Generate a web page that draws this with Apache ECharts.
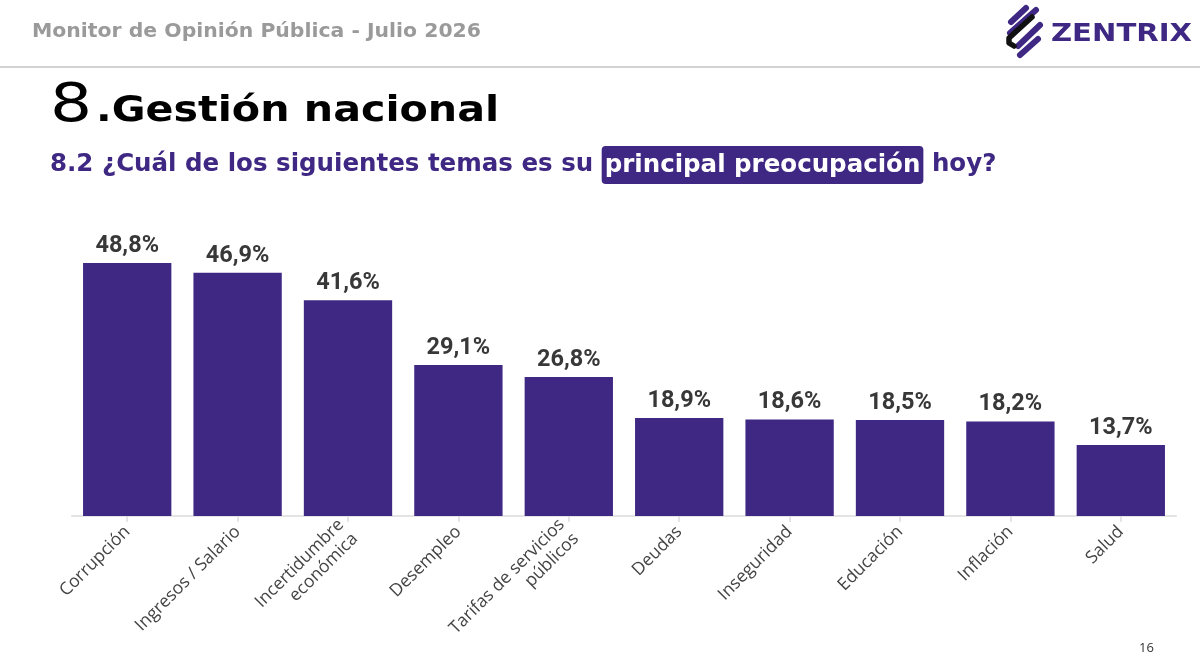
<!DOCTYPE html>
<html><head><meta charset="utf-8">
<script src="https://cdn.jsdelivr.net/npm/echarts@6/dist/echarts.min.js"></script>
<style>html,body{margin:0;padding:0;background:#fff}#c{width:1200px;height:663px}</style>
</head><body><div id="c"></div>
<script>
const categories = ['Corrupción','Ingresos / Salario','Incertidumbre\neconómica','Desempleo','Tarifas de servicios\npúblicos','Deudas','Inseguridad','Educación','Inflación','Salud'];
const values = [48.8, 46.9, 41.6, 29.1, 26.8, 18.9, 18.6, 18.5, 18.2, 13.7];
const headerText = 'Monitor de Opinión Pública - Julio 2026';
const titleNum = '8';
const titleText = '.Gestión nacional';
const subtitleText = '8.2 ¿Cuál de los siguientes temas es su {h|principal preocupación} hoy?';
const pageNum = '16';

const PURPLE = '#3f2883';
const HF = 'DejaVu Sans';
const chart = echarts.init(document.getElementById('c'), null, {renderer:'canvas'});
chart.setOption({
  animation:false,
  backgroundColor:'#fff',
  grid:{left:72, right:24, top:256.7, bottom:147, containLabel:false},
  xAxis:{
    type:'category', data:categories,
    axisLine:{lineStyle:{color:'#e4e4e4', width:2}},
    axisTick:{show:true, alignWithLabel:true, length:6, lineStyle:{color:'#dddddd', width:1.5}},
    axisLabel:{rotate:45, fontSize:17.5, color:'#444', fontFamily:'Open Sans', margin:13, interval:0, lineHeight:20}
  },
  yAxis:{type:'value', min:0, max:50, show:false, splitLine:{show:false}},
  series:[{
    type:'bar', data:values, barCategoryGap:'20%',
    itemStyle:{color:PURPLE},
    label:{show:true, position:'top', distance:5, fontSize:23.5, fontWeight:'bold', color:'#383838', fontFamily:'Roboto',
      formatter:p=>p.value.toFixed(1).replace('.',',')+'%'}
  }],
  graphic:[
    {type:'text', x:32, y:22, scaleX:1.02, style:{text:headerText, fontSize:20, fontWeight:'bold', fill:'#9a9a9a', fontFamily:HF}},
    {type:'rect', shape:{x:0,y:66,width:1200,height:2}, style:{fill:'#d2d2d2'}},
    {type:'text', x:50, y:81, scaleX:1.25, style:{text:titleNum, fontSize:53, fontWeight:'normal', fill:'#000', fontFamily:HF}},
    {type:'text', x:96, y:94, scaleX:1.145, style:{text:titleText, fontSize:36, fontWeight:'bold', fill:'#000', fontFamily:HF}},
    {type:'text', left:50, top:146, style:{text:subtitleText, fontSize:24.5, fontWeight:'bold', fill:PURPLE, fontFamily:HF,
      rich:{h:{fontSize:24.5, fontWeight:'bold', fontFamily:HF, fill:'#fff', backgroundColor:PURPLE, borderRadius:4, padding:[7,3,6,3]}}}},
    // logo
    {type:'line', shape:{x1:1011,y1:22,x2:1026,y2:8}, style:{stroke:PURPLE, lineWidth:6, lineCap:'round'}},
    {type:'line', shape:{x1:1010,y1:33,x2:1036,y2:10}, style:{stroke:PURPLE, lineWidth:6, lineCap:'round'}},
    {type:'line', shape:{x1:1018,y1:46,x2:1040,y2:25}, style:{stroke:PURPLE, lineWidth:6, lineCap:'round'}},
    {type:'line', shape:{x1:1020,y1:55,x2:1038,y2:39}, style:{stroke:PURPLE, lineWidth:6, lineCap:'round'}},
    {type:'polyline', shape:{points:[[1032,17],[1009,38],[1009,43],[1014,46]]}, style:{stroke:'#111', lineWidth:5.5, fill:null, lineJoin:'round', lineCap:'round'}},
    {type:'text', x:1051, y:22, scaleX:1.165, style:{text:'ZENTRIX', fontSize:25, fontWeight:'bold', fill:PURPLE, fontFamily:HF}},
    {type:'text', left:1139, top:642, style:{text:pageNum, fontSize:13, fill:'#333', fontFamily:'Open Sans'}}
  ]
});
</script></body></html>
